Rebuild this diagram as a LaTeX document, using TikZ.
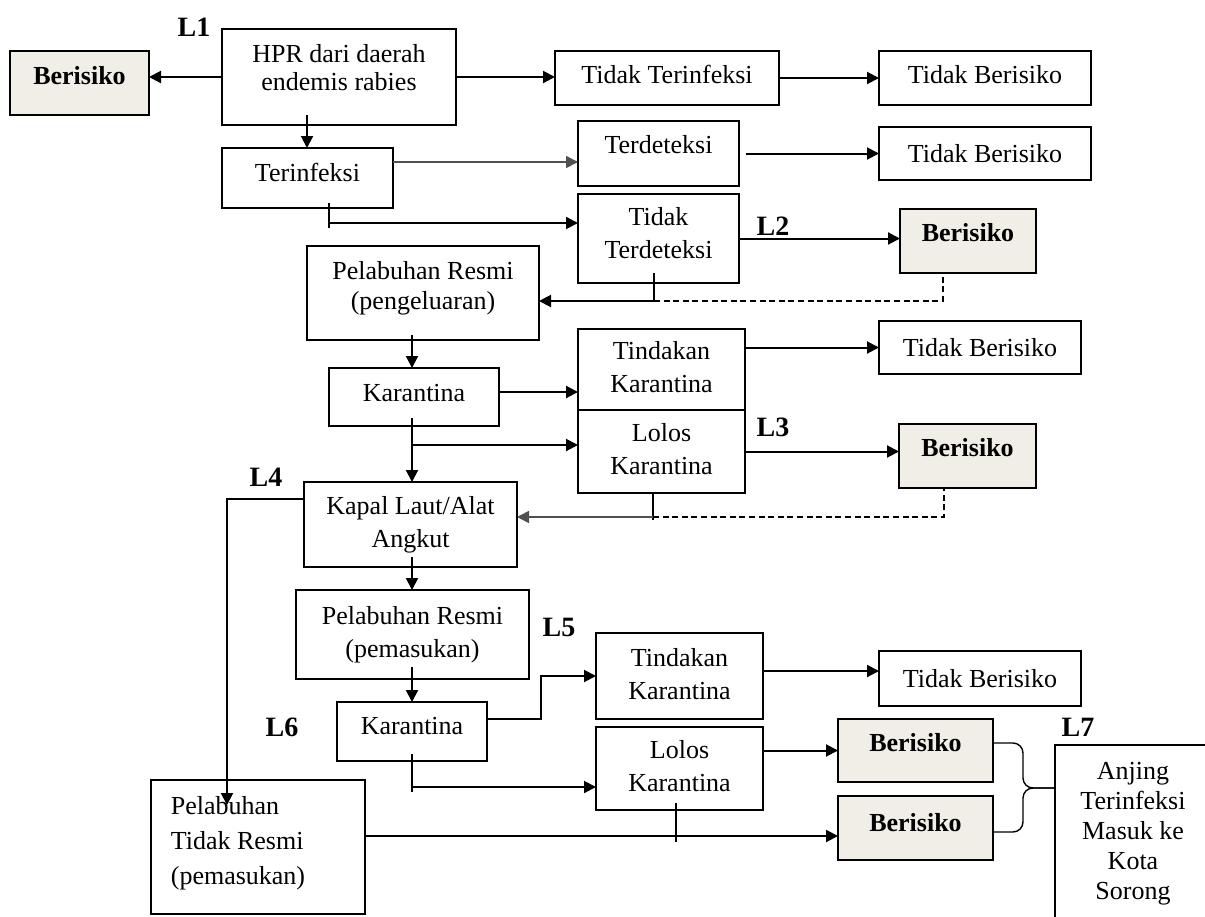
\documentclass[tikz,border=0pt]{standalone}
\usepackage{fontspec}
\setmainfont{Liberation Serif}
\usetikzlibrary{arrows.meta}
\definecolor{garis}{HTML}{000000}
\definecolor{risiko}{HTML}{F1EEE7}
\definecolor{garisabu}{HTML}{505050}
\newcommand{\baris}[1]{\begin{tabular}{@{}c@{}}#1\end{tabular}}
\tikzset{
  kotak/.style={draw=garis,line width=0.9pt,fill=white,inner sep=0pt,outer sep=0pt,font=\fontsize{13}{16.5}\selectfont},
  risk/.style={kotak,fill=risiko,font=\fontsize{13}{16.5}\selectfont\bfseries},
  uk/.style 2 args={minimum width=#1,minimum height=#2},
  naik/.style={text height=9pt,text depth=#1},
  panah/.style={draw=garis,line width=1pt,-{Triangle[length=6pt,width=6pt]}},
  hubung/.style={draw=garis,line width=1pt},
  tipis/.style={draw=garisabu,line width=0.8pt},
  putus/.style={draw=garis,line width=0.8pt,dash pattern=on 3pt off 1.8pt},
  kurung/.style={draw=garis,line width=0.7pt,rounded corners=5pt},
  tandaL/.style={font=\fontsize{14}{16}\selectfont\bfseries,inner sep=0pt},
}
\begin{document}
\begin{tikzpicture}[x=0.5pt,y=-0.5pt]
  \useasboundingbox (0,0) rectangle (1205,916);
  \clip (0,0) rectangle (1205,916);
  % baris atas
  \node[risk,uk={69.5pt}{32pt},naik=7.4pt] (b1) at (79.5,83) {Berisiko};
  \node[kotak,uk={117pt}{48pt},naik=10.4pt] (hpr) at (339,77) {\baris{HPR dari daerah\\[-2.5pt]endemis rabies}};
  \node[kotak,uk={112pt}{27pt},naik=3.4pt] (tt) at (667,78) {Tidak Terinfeksi};
  \node[kotak,uk={106pt}{27pt},naik=3.4pt] (tb1) at (985,78) {Tidak Berisiko};
  % terinfeksi
  \node[kotak,uk={85.5pt}{30pt},naik=5.4pt] (inf) at (307.5,178) {Terinfeksi};
  \node[kotak,uk={80.5pt}{32.5pt},naik=8.9pt] (det) at (658.5,153.5) {Terdeteksi};
  \node[kotak,uk={106pt}{26.5pt}] (tb2) at (985,153.5) {Tidak Berisiko};
  \node[kotak,uk={80.5pt}{44.5pt},naik=5.9pt] (tdet) at (658.5,238.5) {\baris{Tidak\\Terdeteksi}};
  \node[risk,uk={68pt}{32pt},naik=8.4pt] (b2) at (968,241) {Berisiko};
  % pelabuhan pengeluaran
  \node[kotak,uk={116pt}{47pt},naik=8.4pt] (pr1) at (423,293) {\baris{Pelabuhan Resmi\\[-1.5pt](pengeluaran)}};
  \node[kotak,uk={85pt}{29pt},naik=4.4pt] (kar1) at (414,397) {Karantina};
  \node[kotak,uk={83.5pt}{40.5pt}] (tin1) at (661.5,369.5) {\baris{Tindakan\\Karantina}};
  \node[kotak,uk={83.5pt}{41.5pt}] (lol1) at (661.5,451.5) {\baris{Lolos\\Karantina}};
  \node[kotak,uk={101pt}{26.5pt}] (tb3) at (980,347.5) {Tidak Berisiko};
  \node[risk,uk={68.5pt}{32pt},naik=8.4pt] (b3) at (967.5,456) {Berisiko};
  % kapal dan pemasukan
  \node[kotak,uk={106.5pt}{42.5pt}] (kap) at (410.5,524.5) {\baris{Kapal Laut/Alat\\Angkut}};
  \node[kotak,uk={116.5pt}{44.5pt}] (pr2) at (412.5,634.5) {\baris{Pelabuhan Resmi\\(pemasukan)}};
  \node[kotak,uk={75pt}{29.5pt},naik=5.9pt] (kar2) at (412,731.5) {Karantina};
  \node[kotak,uk={83.5pt}{43pt}] (tin2) at (679.5,676) {\baris{Tindakan\\Karantina}};
  \node[kotak,uk={101pt}{27.5pt}] (tb4) at (980,678.5) {Tidak Berisiko};
  \node[kotak,uk={83.5pt}{41.5pt}] (lol2) at (679.5,768.5) {\baris{Lolos\\Karantina}};
  \node[risk,uk={77.5pt}{31.5pt},naik=7.9pt] (b4) at (915.5,750.5) {Berisiko};
  \node[risk,uk={77.5pt}{32pt},naik=5.4pt] (b5) at (915.5,828) {Berisiko};
  \node[kotak,uk={107pt}{67pt},naik=7.4pt] (ptr) at (258,847)
    {\begin{tabular}{@{}l@{\hspace{20pt}}}Pelabuhan\\[1pt]Tidak Resmi\\[1pt](pemasukan)\end{tabular}};
  \node[kotak,uk={78pt}{87.5pt}] (anj) at (1133,832.5)
    {\baris{Anjing\\[-1.5pt]Terinfeksi\\[-1.5pt]Masuk ke\\[-1.5pt]Kota\\[-1.5pt]Sorong}};
  % label L
  \node[tandaL] (L1) at (194,27) {L1};
  \node[tandaL] (L2) at (773,226) {L2};
  \node[tandaL] (L3) at (773,427) {L3};
  \node[tandaL] (L4) at (266,477) {L4};
  \node[tandaL] (L5) at (559,627) {L5};
  \node[tandaL] (L6) at (282,727) {L6};
  \node[tandaL] (L7) at (1078,727) {L7};
  % panah dari HPR
  \draw[panah] (hpr.west) -- (hpr.west -| b1.east);
  \draw[panah] (hpr.east) -- (hpr.east -| tt.west);
  \draw[panah] (tt.east) -- (tt.east -| tb1.west);
  \coordinate (hprA) at (307,115);
  \draw[panah] (hprA) -- (hprA |- inf.north);
  % terinfeksi
  \coordinate (infK) at ([yshift=8pt]inf.east);
  \draw[panah,tipis] (infK) -- (infK -| det.west);
  \draw[panah] ([xshift=3.5pt]det.east) -- (tb2.west);
  \coordinate (infA) at (329,203); \coordinate (infB) at (329,228); \coordinate (infC) at (329,223);
  \draw[hubung] (infA) -- (infB);
  \draw[panah] (infC) -- (infC -| tdet.west);
  % tidak terdeteksi
  \draw[panah] (tdet.east) -- (tdet.east -| b2.west);
  \coordinate (tdetA) at (654,273); \coordinate (tdetB) at (654,302); \coordinate (tdetC) at (654,301);
  \coordinate (b2P) at (943,273);
  \draw[hubung] (tdetA) -- (tdetB);
  \draw[panah] (tdetC) -- (tdetC -| pr1.east);
  \draw[putus] (tdetC) -| (b2P);
  % karantina pengeluaran
  \coordinate (pr1A) at (412,335);
  \draw[panah] (pr1A) -- (pr1A |- kar1.north);
  \coordinate (kar1K) at ([yshift=2.5pt]kar1.east);
  \draw[panah] (kar1K) -- (kar1K -| tin1.west);
  \coordinate (kar1A) at (412,418); \coordinate (kar1B) at (412,445);
  \draw[panah] (kar1A) -- (kar1A |- kap.north);
  \draw[panah] (kar1B) -- (kar1B -| lol1.west);
  \draw[panah] (tb3.west -| tin1.east) -- (tb3.west);
  \draw[panah] (lol1.east) -- (lol1.east -| b3.west);
  \coordinate (lol1A) at (653,493); \coordinate (lol1B) at (653,520); \coordinate (lol1C) at (653,517);
  \coordinate (b3P) at (944,488);
  \draw[hubung] (lol1A) -- (lol1B);
  \draw[panah,tipis] (lol1C) -- (lol1C -| kap.east);
  \draw[putus] (lol1C) -| (b3P);
  % jalur L4
  \coordinate (kapK) at ([yshift=12.75pt]kap.west); \coordinate (ujungL4) at (227,805);
  \draw[panah] (kapK) -| (ujungL4);
  % pemasukan
  \coordinate (kapA) at (412,557);
  \draw[panah] (kapA) -- (kapA |- pr2.north);
  \coordinate (pr2A) at (412,667);
  \draw[panah] (pr2A) -- (pr2A |- kar2.north);
  \coordinate (kar2K) at ([yshift=6.25pt]kar2.east);
  \draw[panah] (kar2K) -- ++(54,0) |- (tin2.west);
  \coordinate (kar2A) at (412,754); \coordinate (kar2B) at (412,792); \coordinate (kar2C) at (412,787);
  \draw[hubung] (kar2A) -- (kar2B);
  \draw[panah] (kar2C) -- (kar2C -| lol2.west);
  \coordinate (tin2K) at ([yshift=2.5pt]tin2.east);
  \draw[panah] (tin2K) -- (tin2K -| tb4.west);
  \draw[panah] (b4.west -| lol2.east) -- (b4.west);
  \coordinate (ptrK) at ([yshift=5.5pt]ptr.east);
  \draw[panah] (ptrK) -- (ptrK -| b5.west);
  \coordinate (lol2A) at (676,803); \coordinate (lol2B) at (676,842);
  \draw[hubung] (lol2A) -- (lol2B);
  % kurung ke anjing
  \coordinate (b4K) at ([yshift=3.75pt]b4.east);
  \coordinate (b5K) at ([yshift=-2pt]b5.east);
  \coordinate (anjK) at ([yshift=22.25pt]anj.west);
  \coordinate (tengah) at ([xshift=-16pt]anjK);
  \draw[kurung] (b4K) -| (tengah) -- (anjK);
  \draw[kurung] (b5K) -| (tengah) -- (anjK);
\end{tikzpicture}
\end{document}
